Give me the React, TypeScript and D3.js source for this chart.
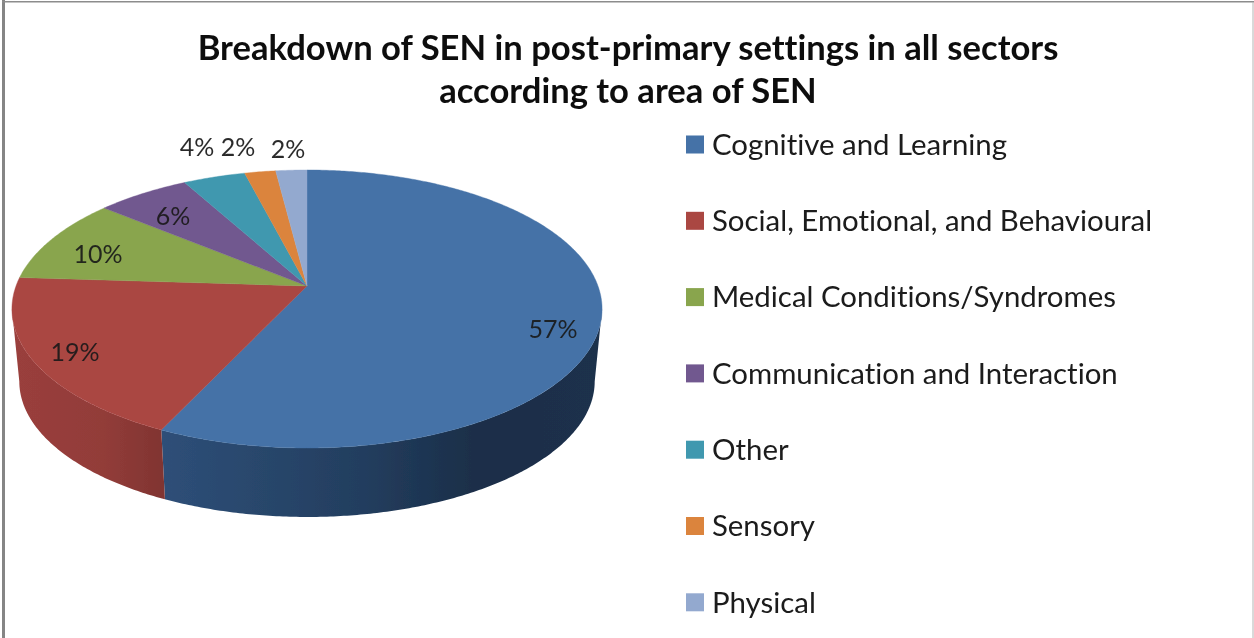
import React from "react";
import * as d3 from "d3";

const categories = [
  "Cognitive and Learning",
  "Social, Emotional, and Behavioural",
  "Medical Conditions/Syndromes",
  "Communication and Interaction",
  "Other",
  "Sensory",
  "Physical",
];
const values = [57, 19, 10, 6, 4, 2, 2];
const colors = ["#4572a7", "#aa4643", "#89a54e", "#71588f", "#4198af", "#db843d", "#93a9cf"];
const titleLines = ["Breakdown of SEN in post-primary settings in all sectors", "according to area of SEN"];
const labelAnchors: [number, number][] = [
  [553, 329], [75, 352], [98, 254], [173, 216], [197, 147], [238, 147], [288, 149],
];

const W = 1254, H = 638;
const FONT = "Lato, Carlito, 'Open Sans', sans-serif";
const cx = 307, cy = 286, R = 291, S = 135.2, K = 0.1655, DEPTH = 73, SHRINK = 0.975;

// Perspective projection of a point on the pie's rim (angle clockwise from 12 o'clock).
const rim = (a: number, lower = false): [number, number] => {
  const u = Math.sin(a), v = -Math.cos(a), w = 1 - K * v;
  const s = lower ? SHRINK : 1;
  return [cx + (R * s * u) / w, cy + (lower ? DEPTH : 0) + (S * s * v) / w];
};
const sweep = (a0: number, a1: number, lower = false) => {
  const n = Math.max(2, Math.ceil(Math.abs(a1 - a0) / 0.01));
  return d3.range(n + 1).map((i) => rim(a0 + ((a1 - a0) * i) / n, lower));
};
const line = d3.line();

const pie = d3.pie<number>().sort(null).value((d) => d);
const slices = pie(values);

const sideStart = Math.acos(-K); // silhouette tangents of the projected ellipse
const sideEnd = 2 * Math.PI - sideStart;

const sideStops: Record<number, [number, string][]> = {
  0: [[0, "#2e4f78"], [0.45, "#233e5f"], [0.72, "#1a2e48"], [1, "#1c304c"]],
  1: [[0, "#9a3f3c"], [0.6, "#923c39"], [1, "#803431"]],
};

export default function App() {
  return (
    <svg width={W} height={H} viewBox={`0 0 ${W} ${H}`}
      style={{ position: "absolute", left: 0, top: 0, background: "#fff", display: "block" }}>
      <defs>
        {Object.entries(sideStops).map(([i, stops]) => (
          <linearGradient key={i} id={`side${i}`} x1="0" x2="1" y1="0" y2="0">
            {stops.map(([o, c]) => <stop key={o} offset={o} stopColor={c} />)}
          </linearGradient>
        ))}
        <filter id="soft" x="-5%" y="-5%" width="110%" height="110%">
          <feGaussianBlur stdDeviation="0.5" />
        </filter>
      </defs>
      <path d={`M3.5,${H}V0`} fill="none" stroke="#858585" strokeWidth={3} />
      <path d={`M2,1.75H${W}`} fill="none" stroke="#8c8c8c" strokeWidth={1.6} />
      <path d={`M1253,2V${H}`} fill="none" stroke="#b4b4b4" strokeWidth={1} />
      <g filter="url(#soft)">
        {titleLines.map((t, i) => (
          <text key={t} x={628} y={60 + i * 43} textAnchor="middle" fontFamily={FONT}
            fontWeight={700} fontSize={34.6} fill="#0d0d0d" style={{ fontVariantLigatures: "none" }}>{t}</text>
        ))}
        {slices.map((s, i) => {
          const a0 = Math.max(s.startAngle, sideStart), a1 = Math.min(s.endAngle, sideEnd);
          if (a1 <= a0) return null;
          const pts = [...sweep(a0, a1), ...sweep(a1, a0, true)];
          return <path key={i} d={line(pts) + "Z"} fill={`url(#side${i})`} />;
        })}
        {slices.map((s, i) => (
          <path key={i} d={line([[cx, cy], ...sweep(s.startAngle, s.endAngle)]) + "Z"}
            fill={colors[i]} stroke={colors[i]} strokeWidth={0.4} />
        ))}
        {values.map((v, i) => (
          <text key={i} x={labelAnchors[i][0]} y={labelAnchors[i][1]} dy="0.35em" textAnchor="middle"
            fontFamily={FONT} fontSize={25} fill="#1a1a1a" fillOpacity={0.92}
            style={{ fontVariantLigatures: "none" }}>{v}%</text>
        ))}
        {categories.map((c, i) => {
          const y = 144.5 + i * 76.3;
          return (
            <g key={c}>
              <rect x={686} y={y - 9} width={18} height={18} fill={colors[i]} />
              <text x={712} y={y} dy="0.35em" fontFamily={FONT} fontSize={29.4} fill="#1a1a1a"
                style={{ fontVariantLigatures: "none" }}>{c}</text>
            </g>
          );
        })}
      </g>
    </svg>
  );
}
